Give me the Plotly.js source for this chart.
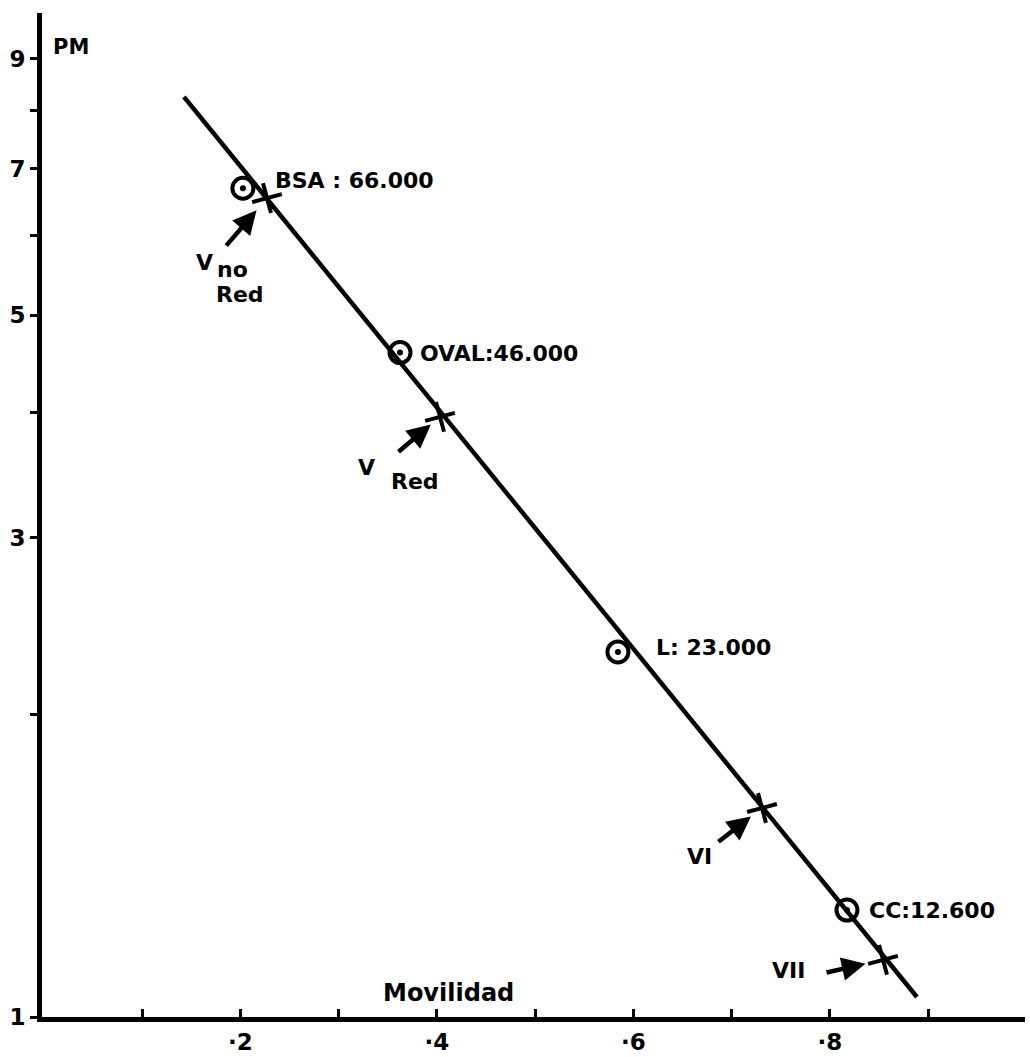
<!DOCTYPE html>
<html>
<head>
<meta charset="utf-8">
<script src="https://cdn.plot.ly/plotly-3.0.1.min.js"></script>
<style>
html,body{margin:0;padding:0;background:#fff;}
#chart{width:1030px;height:1057px;}
</style>
</head>
<body>
<div id="chart"></div>
<script>
// Standard proteins (circles)
const standardNames = ['BSA', 'OVAL', 'L', 'CC'];
const standardLabels = ['BSA : 66.000', 'OVAL:46.000', 'L: 23.000', 'CC:12.600'];
const standardMov = [0.2025, 0.3624, 0.5842, 0.8173];
const standardPM = [6.69, 4.59, 2.31, 1.278];

// Bands (crosses)
const bandNames = ['V no Red', 'V Red', 'VI', 'VII'];
const bandMov = [0.2270, 0.4031, 0.7308, 0.8540];
const bandPM = [6.54, 3.96, 1.615, 1.14];

// Calibration line end points
const fitMov = [0.1425, 0.8885];
const fitPM = [8.25, 1.047];

// Ticks
const yTickVals = [1, 2, 3, 4, 5, 6, 7, 8, 9];
const yTickText = ['1', '', '3', '', '5', '', '7', '', '9'];
const xTickVals = [0.1, 0.2, 0.3, 0.4, 0.5, 0.6, 0.7, 0.8, 0.9];
const xTickText = ['', '·2', '', '·4', '', '·6', '', '·8', ''];

const FONT = 'DejaVu Sans, Liberation Sans, Arial, sans-serif';
const black = '#000';

const traces = [
  {
    x: fitMov, y: fitPM, mode: 'lines', type: 'scatter',
    line: {color: black, width: 4.5}, hoverinfo: 'skip', showlegend: false
  },
  {
    x: standardMov, y: standardPM, mode: 'markers', type: 'scatter',
    text: standardNames,
    marker: {symbol: 'circle-open', size: 21, color: black, line: {color: black, width: 4}},
    showlegend: false
  },
  {
    x: standardMov, y: standardPM, mode: 'markers', type: 'scatter',
    marker: {symbol: 'circle', size: 6, color: black, line: {width: 0}},
    hoverinfo: 'skip', showlegend: false
  },
  {
    x: bandMov, y: bandPM, mode: 'markers', type: 'scatter',
    text: bandNames,
    marker: {symbol: 'cross-thin-open', size: 22, angle: -15, color: black, line: {color: black, width: 4}},
    showlegend: false
  }
];

const annotations = [];
const lblFont = {family: FONT, size: 22, color: black, weight: 'bold'};

// Standard labels to the right of circles
const stdShiftX = [30, 18, 36, 20];
const stdShiftY = [8, -1, 4, 0];
standardLabels.forEach((t, i) => {
  annotations.push({
    x: standardMov[i], y: Math.log10(standardPM[i]), xref: 'x', yref: 'y',
    text: t, showarrow: false, xanchor: 'left', yanchor: 'middle',
    xshift: stdShiftX[i], yshift: stdShiftY[i], font: lblFont
  });
});

// Arrows pointing to bands
const arrowAx = [-42, -43, -45, -58];
const arrowAy = [49, 36, 35, 13];
const arrowStandoff = [16, 12, 14, 18];
bandMov.forEach((m, i) => {
  annotations.push({
    x: m, y: Math.log10(bandPM[i]), xref: 'x', yref: 'y',
    text: '', showarrow: true, ax: arrowAx[i], ay: arrowAy[i],
    arrowhead: 2, arrowsize: 1.05, arrowwidth: 4.5, arrowcolor: black,
    standoff: arrowStandoff[i]
  });
});

// Band text labels: [band index, text, dx, dy]
const bandText = [
  [0, 'V', -62, 64],
  [0, 'no', -34, 71],
  [0, 'Red', -27, 96],
  [1, 'V', -74, 51],
  [1, 'Red', -25, 65],
  [2, 'VI', -62, 49],
  [3, 'VII', -95, 11]
];
bandText.forEach(([i, t, dx, dy]) => {
  annotations.push({
    x: bandMov[i], y: Math.log10(bandPM[i]), xref: 'x', yref: 'y',
    text: t, showarrow: false, xanchor: 'center', yanchor: 'middle',
    xshift: dx, yshift: -dy, font: lblFont
  });
});

annotations.push({
  x: 0.029, y: 0.966, xref: 'paper', yref: 'paper', text: 'PM',
  showarrow: false, xanchor: 'center', yanchor: 'middle',
  font: {family: FONT, size: 21, color: black, weight: 'bold'}
});
annotations.push({
  x: 0.414, y: 0.024, xref: 'paper', yref: 'paper', text: 'Movilidad',
  showarrow: false, xanchor: 'center', yanchor: 'middle',
  font: {family: FONT, size: 24, color: black, weight: 'bold'}
});

const layout = {
  width: 1030, height: 1057,
  margin: {l: 42, r: 5, t: 13, b: 40, pad: 0},
  paper_bgcolor: '#fff', plot_bgcolor: '#fff',
  showlegend: false,
  xaxis: {
    range: [-0.002, 0.9985], showgrid: false, zeroline: false,
    showline: true, linecolor: black, linewidth: 5,
    tickmode: 'array', tickvals: xTickVals, ticktext: xTickText,
    ticks: 'inside', ticklen: 8, tickwidth: 3, tickcolor: black,
    tickfont: {family: FONT, size: 23, color: black, weight: 'bold'}
  },
  yaxis: {
    type: 'log', range: [0, 1], showgrid: false, zeroline: false,
    showline: true, linecolor: black, linewidth: 5,
    tickmode: 'array', tickvals: yTickVals, ticktext: yTickText,
    ticks: 'outside', ticklen: 7, tickwidth: 3, tickcolor: black,
    tickfont: {family: FONT, size: 23, color: black, weight: 'bold'}
  },
  annotations: annotations
};

Plotly.newPlot('chart', traces, layout, {displayModeBar: false, staticPlot: true});
</script>
</body>
</html>
